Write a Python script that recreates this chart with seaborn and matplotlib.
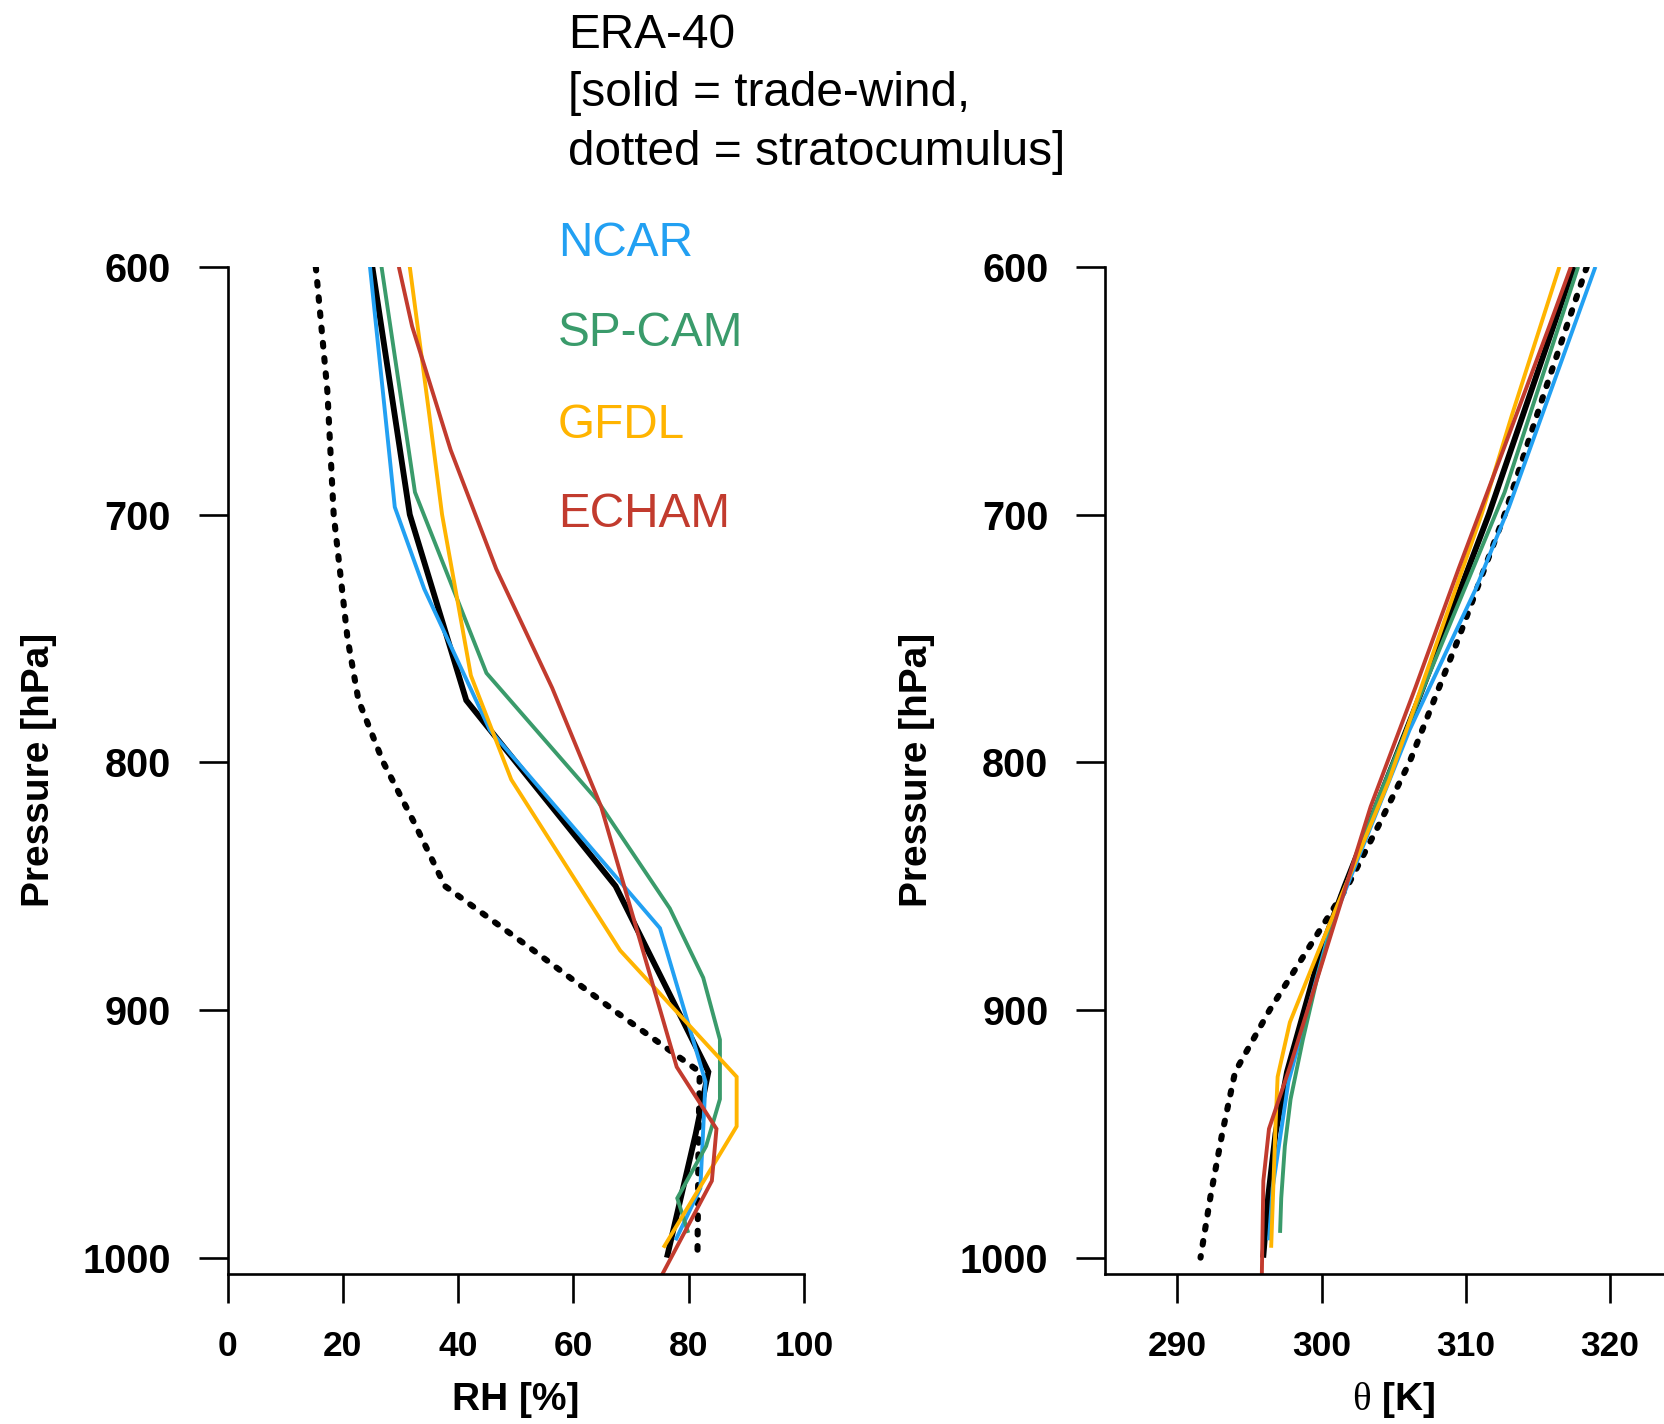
import numpy as np
import pandas as pd
import matplotlib
matplotlib.use("Agg")
import matplotlib.pyplot as plt
import seaborn as sns

# ---------------- data ----------------
# Relative humidity panel
p_era_tw_rh = [600, 700, 775, 850, 925, 950, 975, 1000]
rh_era_tw = [25.1, 31.6, 41.4, 67.3, 83.4, 81.2, 78.7, 76.2]

p_era_sc_rh = [600, 650, 700, 750, 775, 800, 825, 850, 875, 900, 925, 950, 975, 1000]
rh_era_sc = [15.3, 17.3, 18.4, 20.8, 22.7, 27.0, 32.5, 37.7, 52.5, 66.9, 81.9, 81.7, 81.6, 81.5]

p_ncar = [600, 697, 730, 787, 867, 929, 972, 993]
rh_ncar = [24.7, 29.0, 34.1, 45.5, 75.0, 82.9, 82.0, 77.7]

p_spcam = [600, 691, 764, 815, 859, 887, 912, 936, 955, 976, 990]
rh_spcam = [26.7, 32.5, 44.9, 64.0, 76.7, 82.5, 85.4, 85.4, 83.0, 78.0, 79.9]

p_gfdl_rh = [600, 660, 700, 765, 807, 876, 927, 947, 996]
rh_gfdl = [31.6, 35.0, 37.2, 42.2, 49.2, 68.1, 88.3, 88.3, 75.6]

p_echam = [600, 624, 674, 722, 770, 818, 923, 948, 969, 1012]
rh_echam = [29.7, 32.0, 38.7, 46.6, 56.3, 64.8, 77.9, 84.8, 84.0, 74.2]

# Potential temperature panel
p_era_tw_th = [600, 700, 775, 850, 875, 900, 925, 950, 975, 1000]
th_era_tw = [317.5, 311.6, 306.7, 301.6, 300.0, 298.8, 297.6, 296.8, 296.3, 295.95]

p_era_sc_th = [600, 650, 700, 750, 775, 800, 825, 850, 875, 900, 925, 950, 975, 1000]
th_era_sc = [318.4, 315.5, 312.7, 309.5, 307.8, 306.1, 304.0, 301.8, 299.1, 296.4, 294.0, 293.1, 292.3, 291.6]

th_ncar = [319.0, 313.0, 310.7, 306.1, 300.6, 297.7, 296.6, 296.35]
th_spcam = [317.8, 312.7, 307.5, 303.9, 301.1, 299.7, 298.7, 297.85, 297.45, 297.2, 297.12]

p_gfdl_th = [600, 660, 700, 765, 807, 876, 905, 927, 947, 996]
th_gfdl = [316.5, 313.2, 311.1, 307.2, 304.7, 299.8, 297.8, 296.95, 296.8, 296.5]

th_echam = [317.3, 315.8, 312.6, 309.5, 306.5, 303.4, 297.8, 296.35, 295.96, 295.84]

model_names = ["NCAR", "SP-CAM", "GFDL", "ECHAM"]
model_colors = ["#22A0F2", "#3A9B6B", "#FFB400", "#C23B2E"]

title_lines = ["ERA-40", "[solid = trade-wind,", "dotted = stratocumulus]"]
rh_ticks = [0, 20, 40, 60, 80, 100]
th_ticks = [290, 300, 310, 320]
p_ticks = [600, 700, 800, 900, 1000]

# ---------------- figure ----------------
W, H = 1665, 1424
sns.set_style("ticks")
plt.rcParams['font.family'] = ['Liberation Sans', 'DejaVu Sans']
plt.rcParams['mathtext.fontset'] = 'custom'
plt.rcParams['mathtext.rm'] = 'Liberation Serif'
for key in ('text.color', 'axes.labelcolor', 'xtick.color', 'ytick.color',
            'xtick.labelcolor', 'ytick.labelcolor', 'axes.edgecolor'):
    plt.rcParams[key] = 'black'

fig = plt.figure(figsize=(W / 100, H / 100), dpi=100)
fig.patch.set_facecolor('white')

ax_bottom = 1 - 1274 / H
ax_h = (1274 - 266.8) / H
ax_w = 576.5 / W
ax1 = fig.add_axes([227.6 / W, ax_bottom, ax_w, ax_h])
ax2 = fig.add_axes([1105.4 / W, ax_bottom, ax_w, ax_h])


def draw(ax, x, p, color, lw, dotted=False):
    df = pd.DataFrame({"x": x, "p": p})
    if dotted:
        kw = dict(linestyle=(0, (0.6, 1.9)), dash_capstyle='round')
    else:
        kw = dict(solid_capstyle='butt', solid_joinstyle='miter')
    sns.lineplot(data=df, x="x", y="p", sort=False, estimator=None, orient="y",
                 color=color, linewidth=lw, ax=ax, legend=False, **kw)


LW_BLACK = 4.2
LW_DOT = 4.4
LW_COL = 2.8

# Left panel: RH
draw(ax1, rh_era_tw, p_era_tw_rh, "black", LW_BLACK)
draw(ax1, rh_era_sc, p_era_sc_rh, "black", LW_DOT, dotted=True)
draw(ax1, rh_ncar, p_ncar, model_colors[0], LW_COL)
draw(ax1, rh_spcam, p_spcam, model_colors[1], LW_COL)
draw(ax1, rh_gfdl, p_gfdl_rh, model_colors[2], LW_COL)
draw(ax1, rh_echam, p_echam, model_colors[3], LW_COL)

# Right panel: theta
draw(ax2, th_era_tw, p_era_tw_th, "black", LW_BLACK)
draw(ax2, th_era_sc, p_era_sc_th, "black", LW_DOT, dotted=True)
draw(ax2, th_ncar, p_ncar, model_colors[0], LW_COL)
draw(ax2, th_spcam, p_spcam, model_colors[1], LW_COL)
draw(ax2, th_gfdl, p_gfdl_th, model_colors[2], LW_COL)
draw(ax2, th_echam, p_echam, model_colors[3], LW_COL)

for ax in (ax1, ax2):
    ax.set_facecolor('none')
    ax.grid(False)
    ax.set_ylim(1006.6, 600)
    ax.set_yticks(p_ticks)
    for s in ("top", "right"):
        ax.spines[s].set_visible(False)
    for s in ("left", "bottom"):
        ax.spines[s].set_linewidth(1.9)
        ax.spines[s].set_color("black")
    ax.tick_params(axis='both', direction='out', length=21, width=1.9,
                   color='black', labelcolor='black')
    ax.tick_params(axis='y', labelsize=28.5, pad=20)
    ax.tick_params(axis='x', labelsize=25.5, pad=19)

ax1.set_xlim(0, 100)
ax1.set_xticks(rh_ticks)
ax2.set_xlim(285, 325)
ax2.set_xticks(th_ticks)

for ax in (ax1, ax2):
    for lbl in ax.get_xticklabels() + ax.get_yticklabels():
        lbl.set_fontweight('bold')

# axis labels
ax1.set_xlabel("RH [%]", fontsize=28, fontweight='bold', color='black')
ax2.set_xlabel(r"$\mathrm{\theta}$ [K]", fontsize=28, fontweight='bold', color='black')
for ax in (ax1, ax2):
    ax.set_ylabel("Pressure [hPa]", fontsize=28, fontweight='bold', color='black')
    ax.xaxis.label.set_va('baseline')
    ax.xaxis.set_label_coords(0.5, -(1410 - 1274) / (1274 - 266.8))
    ax.yaxis.label.set_rotation_mode('anchor')
    ax.yaxis.label.set_va('baseline')
    ax.yaxis.label.set_ha('center')
    ax.yaxis.set_label_coords((49 - 227.6) / 576.5, 0.5)


def ftext(x, y, s, **kw):
    fig.text(x / W, 1 - y / H, s, **kw)


# title block
for line, yb in zip(title_lines, [47.5, 106, 165]):
    ftext(568, yb, line, fontsize=34.4, ha='left', va='baseline', color='black')

# model names (colour legend)
for name, col, yb in zip(model_names, model_colors, [256.4, 346.4, 437.5, 526.8]):
    ftext(558, yb, name, fontsize=34.4, ha='left', va='baseline', color=col)

fig.savefig("out.png", dpi=100, facecolor='white')
